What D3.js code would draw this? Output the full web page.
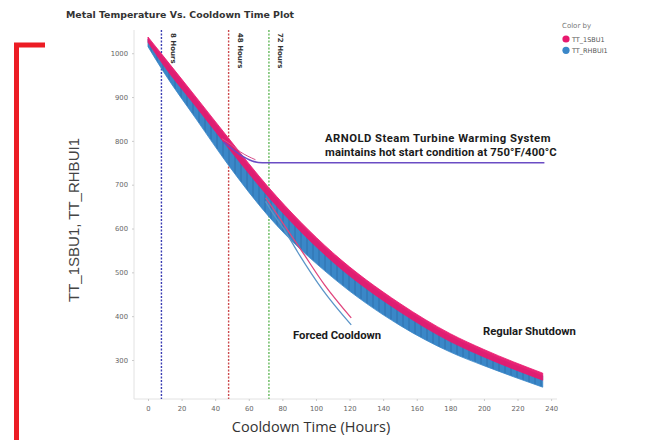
<!DOCTYPE html>
<html>
<head>
<meta charset="utf-8">
<script src="https://cdn.jsdelivr.net/npm/d3@7"></script>
<style>
	body { margin: 0; background: #fff; }
	svg { display: block; }
</style>
</head>
<body>
<svg id="chart"></svg>
<script>
// data
const hours      = [0, 9, 29, 48, 72, 110, 150, 180, 200, 235];
const pinkHigh   = [1037, 994, 898, 806, 693, 545, 429, 360, 324, 270];
const pinkLow    = [1025, 974, 876, 783, 671, 524, 410, 342, 307, 254];
const blueHigh   = [1032, 988, 892, 800, 687, 539, 423, 354, 318, 264];
const blueLow    = [1015, 959, 848, 744, 627, 488, 379, 318, 287, 238];

const forcedPinkHours = [70, 73, 83, 91, 105, 121];
const forcedPinkTemps = [670, 654, 597, 552, 472, 396];
const forcedBlueHours = [70, 73, 82, 89, 104, 121];
const forcedBlueTemps = [662, 643, 592, 547, 460, 380];

const warmHours = [45, 50, 55, 62, 68, 90, 120, 180, 236];
const warmTemps = [797, 782, 768, 754, 750, 750, 750, 750, 750];

const warmPinkHours = [44, 50, 55, 64];
const warmPinkTemps = [805, 790, 775, 757];

const markerHours  = [8, 48, 72];
const markerLabels = ["8 Hours", "48 Hours", "72 Hours"];
const markerColours = ["#3a3db3", "#cc4a4e", "#66ba5c"];

const xTicks = [0, 20, 40, 60, 80, 100, 120, 140, 160, 180, 200, 220, 240];
const yTicks = [300, 400, 500, 600, 700, 800, 900, 1000];

const legendNames = ["TT_1SBU1", "TT_RHBUI1"];
const pink = "#e8186e";
const blue = "#3a87c8";

const width = 647, height = 440;
const svg = d3.select("#chart").attr("width", width).attr("height", height);

const scaleX = d3.scaleLinear().domain([-8.33, 243.5]).range([134, 557]);
const scaleY = d3.scaleLinear().domain([211, 1053]).range([399, 30]);

// red bracket at the left
svg.append("path")
	.attr("d", "M16.5,440 V45 H45")
	.attr("fill", "none")
	.attr("stroke", "#ec1c24")
	.attr("stroke-width", 5);

// title
svg.append("text")
	.attr("x", 66).attr("y", 17.5)
	.attr("font-family", "DejaVu Sans, Verdana, sans-serif")
	.attr("font-weight", "bold")
	.attr("font-size", 9.4)
	.attr("fill", "#333")
	.text("Metal Temperature Vs. Cooldown Time Plot");

// axis lines
svg.append("line")
	.attr("x1", 134).attr("x2", 134).attr("y1", 30).attr("y2", 399)
	.attr("stroke", "#e2e2e2");
svg.append("line")
	.attr("x1", 134).attr("x2", 557).attr("y1", 399).attr("y2", 399)
	.attr("stroke", "#e2e2e2");

// x axis
let xAxis = g => g
	.attr("transform", "translate(0,399)")
	.call(d3.axisBottom(scaleX).tickValues(xTicks).tickSize(2).tickPadding(5))
	.call(g => g.select(".domain").remove())
	.call(g => g.selectAll("line").attr("stroke", "#ccc"))
	.call(g => g.selectAll("text")
		.attr("font-family", "DejaVu Sans, Verdana, sans-serif")
		.attr("font-size", 6.8)
		.attr("fill", "#666"));
svg.append("g").call(xAxis);

// y axis
let yAxis = g => g
	.attr("transform", "translate(134,0)")
	.call(d3.axisLeft(scaleY).tickValues(yTicks).tickFormat(d3.format("d")).tickSize(2).tickPadding(4))
	.call(g => g.select(".domain").remove())
	.call(g => g.selectAll("line").attr("stroke", "#ccc"))
	.call(g => g.selectAll("text")
		.attr("font-family", "DejaVu Sans, Verdana, sans-serif")
		.attr("font-size", 6.8)
		.attr("fill", "#666"));
svg.append("g").call(yAxis);

// axis titles
svg.append("text")
	.attr("transform", "translate(79,220) rotate(-90)")
	.attr("text-anchor", "middle")
	.attr("font-family", "Liberation Sans, Arial, sans-serif")
	.attr("font-size", 15)
	.attr("fill", "#444")
	.text("TT_1SBU1, TT_RHBUI1");

svg.append("text")
	.attr("x", 311).attr("y", 432)
	.attr("text-anchor", "middle")
	.attr("font-family", "Open Sans, sans-serif")
	.attr("font-size", 14.5)
	.attr("fill", "#333")
	.text("Cooldown Time (Hours)");

// marker lines at 8, 48, 72 hours
const markers = svg.append("g");
markerHours.forEach((h, i) => {
	markers.append("line")
		.attr("x1", scaleX(h)).attr("x2", scaleX(h))
		.attr("y1", 30).attr("y2", 399)
		.attr("stroke", markerColours[i])
		.attr("stroke-width", 1.4)
		.attr("stroke-dasharray", "2,1.5");
	markers.append("text")
		.attr("transform", "translate(" + (scaleX(h) + 9.5) + ",33) rotate(90)")
		.attr("font-family", "DejaVu Sans, Verdana, sans-serif")
		.attr("font-weight", "bold")
		.attr("font-size", 7)
		.attr("fill", "#333")
		.text(markerLabels[i]);
});

// hatch for the blue band
const defs = svg.append("defs");
const pattern = defs.append("pattern")
	.attr("id", "blueHatch")
	.attr("patternUnits", "userSpaceOnUse")
	.attr("width", 6).attr("height", 6);
pattern.append("rect").attr("width", 6).attr("height", 6).attr("fill", blue);
pattern.append("line")
	.attr("x1", 1).attr("x2", 1).attr("y1", 0).attr("y2", 6)
	.attr("stroke", "#2a6aa6").attr("stroke-width", 0.8);

const band = (hi, lo) => d3.area()
	.x((d, i) => scaleX(hours[i]))
	.y0((d, i) => scaleY(lo[i]))
	.y1((d, i) => scaleY(hi[i]))
	.curve(d3.curveMonotoneX)(hours);

svg.append("path")
	.attr("d", band(blueHigh, blueLow))
	.attr("fill", "url(#blueHatch)")
	.attr("stroke", blue)
	.attr("stroke-width", 0.8);

svg.append("path")
	.attr("d", band(pinkHigh, pinkLow))
	.attr("fill", pink)
	.attr("fill-opacity", 0.95)
	.attr("stroke", pink)
	.attr("stroke-width", 0.8);

const line = (hs, ts) => d3.line()
	.x((d, i) => scaleX(hs[i]))
	.y((d, i) => scaleY(ts[i]))
	.curve(d3.curveMonotoneX)(hs);

// forced cooldown traces
svg.append("path")
	.attr("d", line(forcedBlueHours, forcedBlueTemps))
	.attr("fill", "none").attr("stroke", "#5b95c8").attr("stroke-width", 1.3);
svg.append("path")
	.attr("d", line(forcedPinkHours, forcedPinkTemps))
	.attr("fill", "none").attr("stroke", "#e0457d").attr("stroke-width", 1.3);

// warming system traces
svg.append("path")
	.attr("d", line(warmPinkHours, warmPinkTemps))
	.attr("fill", "none").attr("stroke", "#d9508a").attr("stroke-width", 1);
svg.append("path")
	.attr("d", line(warmHours, warmTemps))
	.attr("fill", "none").attr("stroke", "#6a4cc4").attr("stroke-width", 1.5);

// annotations
const note = (x, y, s, spacing) => svg.append("text")
	.attr("x", x).attr("y", y)
	.attr("font-family", "Roboto, sans-serif")
	.attr("font-weight", "bold")
	.attr("font-size", 11.3)
	.attr("letter-spacing", spacing || 0)
	.attr("fill", "#1b1b1b")
	.text(s);
note(325, 142, "ARNOLD Steam Turbine Warming System", 0.45);
note(325, 156, "maintains hot start condition at 750°F/400°C", 0.1);
note(293, 339, "Forced Cooldown");
note(483, 335, "Regular Shutdown");

// legend
const legend = svg.append("g").attr("font-family", "DejaVu Sans, Verdana, sans-serif");
legend.append("text")
	.attr("x", 562).attr("y", 28)
	.attr("font-size", 7)
	.attr("fill", "#777")
	.text("Color by");
legendNames.forEach((name, i) => {
	legend.append("circle")
		.attr("cx", 566).attr("cy", 39 + i * 11.3)
		.attr("r", 3.6)
		.attr("fill", i === 0 ? pink : blue);
	legend.append("text")
		.attr("x", 572).attr("y", 41.5 + i * 11.3)
		.attr("font-size", 6.5)
		.attr("fill", "#555")
		.text(name);
});
</script>
</body>
</html>
